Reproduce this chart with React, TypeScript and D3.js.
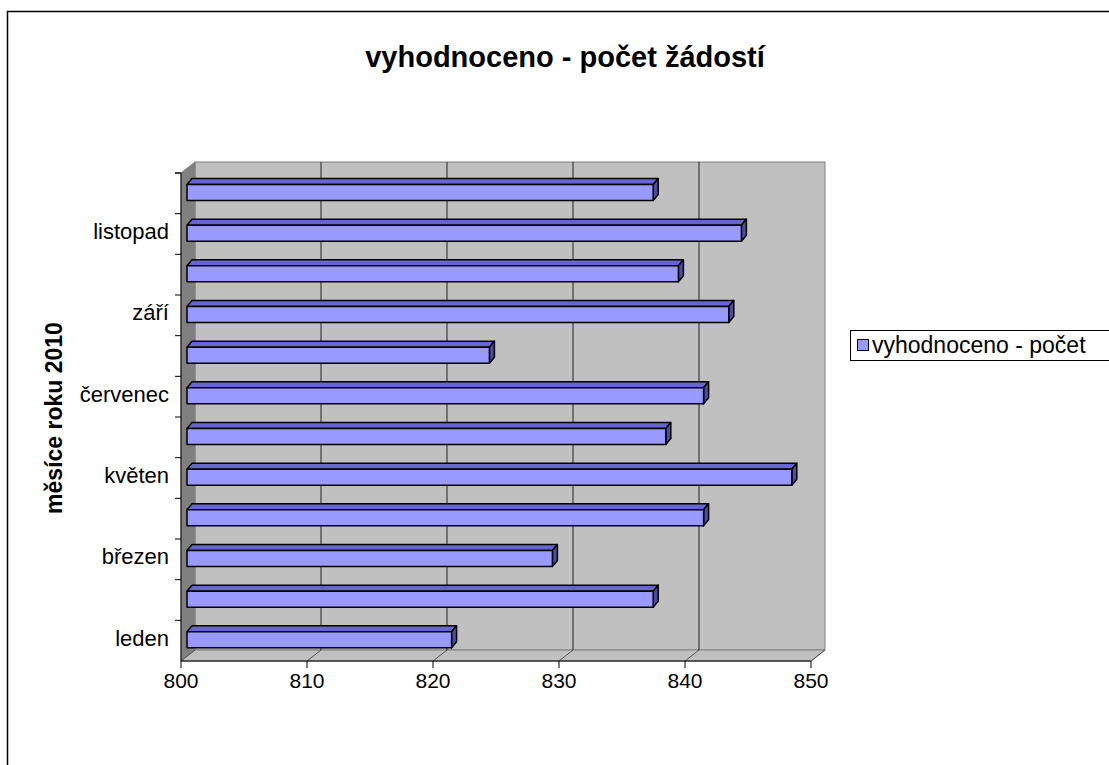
import React from 'react';
import * as d3 from 'd3';

const months = ['leden', 'únor', 'březen', 'duben', 'květen', 'červen', 'červenec', 'srpen', 'září', 'říjen', 'listopad', 'prosinec'];
const values = [821, 837, 829, 841, 848, 838, 841, 824, 843, 839, 844, 837];
const labelled = ['leden', 'březen', 'květen', 'červenec', 'září', 'listopad'];
const xTicks = [800, 810, 820, 830, 840, 850];
const seriesName = 'vyhodnoceno - počet';
const title = 'vyhodnoceno - počet žádostí';
const yTitle = 'měsíce roku 2010';

const W = 1109;
const H = 765;
// 3D depth offsets of the back wall
const DX = 14;
const DY = -11;
// bar depth
const BX = 6;
const BDX = 5;
const BDY = -6;

const font = 'Liberation Sans, Arial, sans-serif';

const App = () => {
  const x = d3.scaleLinear().domain([800, 850]).range([181, 811]);
  const y = d3.scaleBand().domain(months).range([661, 173]);
  const bottom = 661;
  const top = 173;
  const x0 = x(800);
  const x1 = x(850);

  const bars = months.map((m, i) => {
    const bt = (y(m) as number) + 11.5;
    const bb = bt + 16;
    const l = x0 + BX;
    const r = x(values[i]) + BX;
    return { m, bt, bb, l, r };
  });

  return (
    <div style={{ position: 'absolute', left: 0, top: 0 }}>
      <svg width={W} height={H} style={{ display: 'block', background: '#fff' }}>
        <rect x={7.5} y={11.5} width={W + 20} height={H + 20} fill="none" stroke="#000" strokeWidth={1.5} />
        <text x={565} y={67} textAnchor="middle" fontFamily={font} fontWeight="bold" fontSize={29}>{title}</text>

        {/* walls */}
        <rect x={x0 + DX} y={top + DY} width={x1 - x0} height={bottom - top} fill="#C0C0C0" stroke="#808080" />
        <polygon points={`${x0},${top} ${x0 + DX},${top + DY} ${x0 + DX},${bottom + DY} ${x0},${bottom}`} fill="#808080" stroke="#808080" />
        <polygon points={`${x0},${bottom} ${x0 + DX},${bottom + DY} ${x1 + DX},${bottom + DY} ${x1},${bottom}`} fill="#C0C0C0" stroke="#808080" />

        {/* gridlines */}
        {xTicks.map((t) => (
          <g key={t}>
            {t > 800 && t < 850 && (
              <line x1={x(t) + DX} x2={x(t) + DX} y1={top + DY} y2={bottom + DY} stroke="#222" strokeWidth={1} />
            )}
            <line x1={x(t)} x2={x(t) + DX} y1={bottom} y2={bottom + DY} stroke="#555" strokeWidth={1} />
            <line x1={x(t)} x2={x(t)} y1={bottom} y2={bottom + 7} stroke="#000" strokeWidth={1} />
            <text x={x(t)} y={688} textAnchor="middle" fontFamily={font} fontSize={21}>{t}</text>
          </g>
        ))}

        {/* bars */}
        {bars.map((b) => (
          <g key={b.m} stroke="#000" strokeWidth={1.5} strokeLinejoin="round">
            <polygon points={`${b.l},${b.bt} ${b.l + BDX},${b.bt + BDY} ${b.r + BDX},${b.bt + BDY} ${b.r},${b.bt}`} fill="#6666CC" />
            <polygon points={`${b.r},${b.bt} ${b.r + BDX},${b.bt + BDY} ${b.r + BDX},${b.bb + BDY} ${b.r},${b.bb}`} fill="#4D4D99" />
            <rect x={b.l} y={b.bt} width={b.r - b.l} height={b.bb - b.bt} fill="#9999FF" />
          </g>
        ))}

        {/* axes */}
        <line x1={x0} x2={x0} y1={top} y2={bottom} stroke="#000" strokeWidth={1} />
        <line x1={x0} x2={x1} y1={bottom} y2={bottom} stroke="#000" strokeWidth={1} />
        {[...months.map((m) => y(m) as number), top].map((v, i) => (
          <line key={i} x1={x0 - 6} x2={x0} y1={v} y2={v} stroke="#000" strokeWidth={1} />
        ))}
        {labelled.map((m) => (
          <text key={m} x={169} y={(y(m) as number) + y.bandwidth() / 2 + 5} textAnchor="end" fontFamily={font} fontSize={22}>{m}</text>
        ))}
        <text transform="translate(62,418) rotate(-90)" textAnchor="middle" fontFamily={font} fontWeight="bold" fontSize={23}>{yTitle}</text>

        {/* legend */}
        <rect x={850.5} y={330.5} width={300} height={30} fill="#fff" stroke="#000" strokeWidth={1} />
        <rect x={857.5} y={339.5} width={11} height={11} fill="#9999FF" stroke="#000" strokeWidth={1} />
        <text x={872} y={353} fontFamily={font} fontSize={23}>{seriesName}</text>
      </svg>
    </div>
  );
};

export default App;
